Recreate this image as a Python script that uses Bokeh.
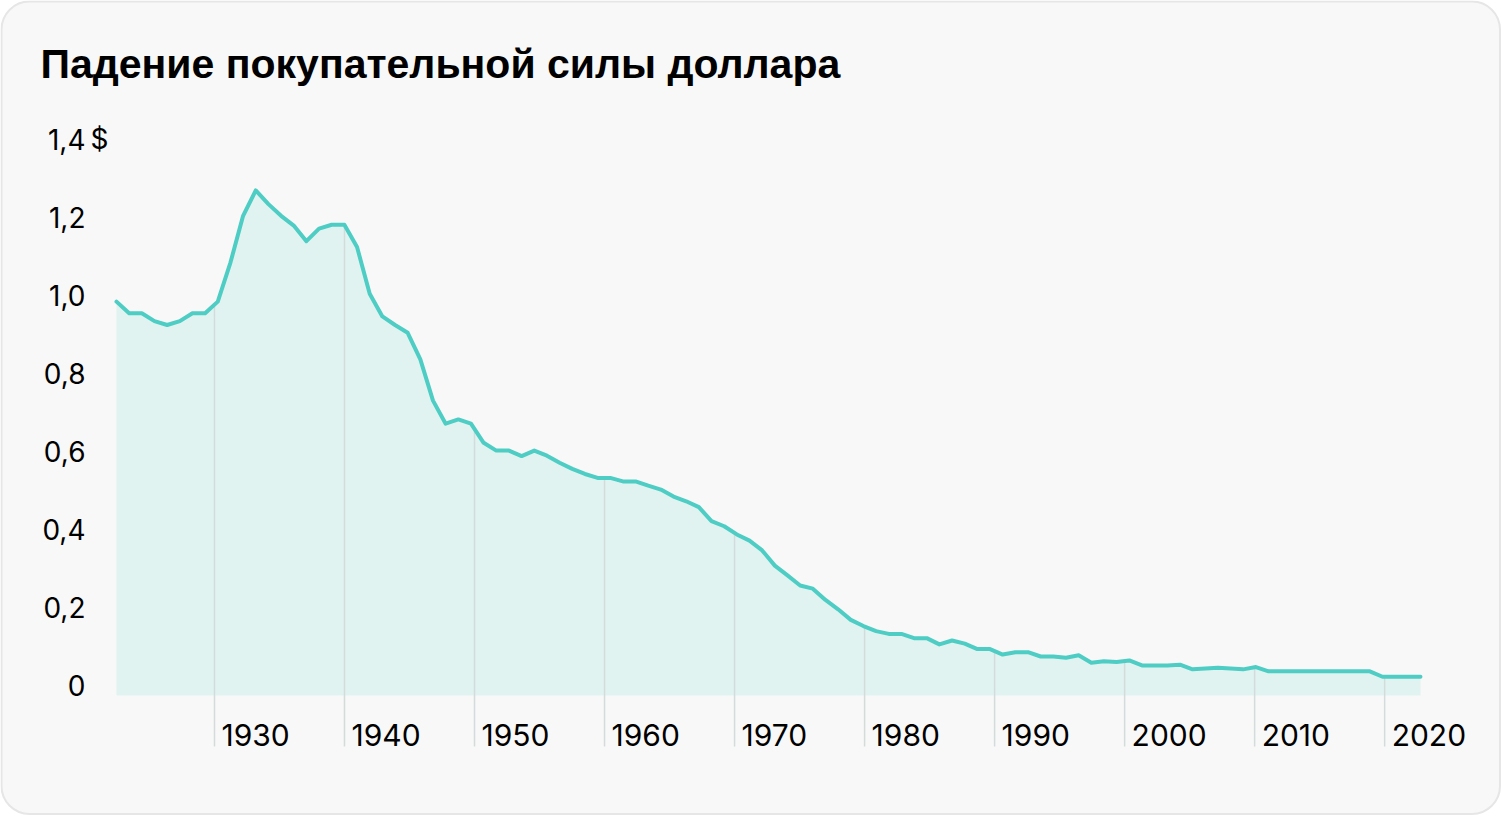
import numpy as np
from bokeh.plotting import figure
from bokeh.models import Range1d, Label
from bokeh.core.properties import value
from bokeh.embed import file_html
from bokeh.resources import INLINE

# ---- data ----
years = list(range(1922, 2026))
values = [
    1.01, 0.98, 0.98, 0.96, 0.95, 0.96, 0.98, 0.98, 1.01, 1.11,
    1.23, 1.295, 1.26, 1.23, 1.205, 1.165, 1.197, 1.207, 1.207, 1.15,
    1.03, 0.972, 0.95, 0.93, 0.862, 0.756, 0.697, 0.708, 0.697, 0.648,
    0.628, 0.628, 0.614, 0.628, 0.615, 0.597, 0.581, 0.568, 0.558, 0.558,
    0.549, 0.549, 0.538, 0.528, 0.51, 0.498, 0.483, 0.447, 0.434, 0.413,
    0.397, 0.372, 0.333, 0.308, 0.282, 0.274, 0.245, 0.221, 0.194, 0.178,
    0.165, 0.158, 0.158, 0.147, 0.147, 0.131, 0.141, 0.133, 0.119, 0.119,
    0.105, 0.111, 0.111, 0.100, 0.100, 0.097, 0.103, 0.084, 0.088, 0.086,
    0.090, 0.077, 0.077, 0.077, 0.079, 0.067, 0.069, 0.071, 0.069, 0.067,
    0.073, 0.062, 0.062, 0.062, 0.062, 0.062, 0.062, 0.062, 0.062, 0.062,
    0.048, 0.048, 0.048, 0.048,
]
y_ticks = [0, 0.2, 0.4, 0.6, 0.8, 1.0, 1.2, 1.4]
y_tick_labels = ["0", "0,2", "0,4", "0,6", "0,8", "1,0", "1,2", "1,4"]
x_tick_labels = ["1930", "1940", "1950", "1960", "1970", "1980", "1990", "2000", "2010", "2020"]
x_tick_pos = [1929.74 + 10.27 * k for k in range(len(x_tick_labels))]
title_text = "Падение покупательной силы доллара"

# ---- style ----
W, H = 1502, 816
LINE = "#4ecdc4"
FILL = "#e0f3f1"
GRID = "#d3dbdb"
CARD = "#f8f8f8"
CARD_BORDER = "#e6e6e6"
TXT = "#000000"
LABEL_FONT = value("Inter")

X0, X1 = 1912.837, 2031.479
Y0, Y1 = -0.31026, 1.78205
ppx = W / (X1 - X0)
ppy = H / (Y1 - Y0)


def dx(px):
    return X0 + px / ppx


def dy(py):
    return Y1 - py / ppy


p = figure(width=W, height=H, output_backend="svg", toolbar_location=None,
           x_range=Range1d(X0, X1), y_range=Range1d(Y0, Y1),
           x_axis_location=None, y_axis_location=None, min_border=0)
p.grid.visible = False
p.outline_line_color = None
p.background_fill_color = "white"
p.border_fill_color = "white"

# card
p.quad(left=dx(1), right=dx(1499.5), top=dy(1), bottom=dy(813.5),
       fill_color=CARD, line_color=CARD_BORDER, line_width=2, border_radius=28)

# area
base = [0] * len(years)
p.varea(x=years, y1=base, y2=values, fill_color=FILL)

# decade lines from curve down through the labels
tops = np.interp(x_tick_pos, years, values)
bottom = dy(746)
p.segment(x0=x_tick_pos, y0=tops, x1=x_tick_pos, y1=[bottom] * len(x_tick_pos),
          line_color=GRID, line_width=1.5)

# main line
p.line(x=years, y=values, line_color=LINE, line_width=4,
       line_join="round", line_cap="round")

# x labels
p.text(x=x_tick_pos, y=[bottom] * len(x_tick_pos), text=x_tick_labels,
       x_offset=7, y_offset=-12, text_align="left", text_baseline="alphabetic",
       text_font=LABEL_FONT, text_font_size="30px", text_color=TXT)

# y labels
p.text(x=[years[0]] * len(y_ticks), y=y_ticks, text=y_tick_labels,
       x_offset=-31, y_offset=-10, text_align="right", text_baseline="alphabetic",
       text_font=LABEL_FONT, text_font_size="28px", text_color=TXT)
p.text(x=[years[0]], y=[y_ticks[-1]], text=["$"], x_offset=-26, y_offset=-10,
       text_align="left", text_baseline="alphabetic",
       text_font=LABEL_FONT, text_font_size="28px", text_color=TXT)

# title
p.add_layout(Label(x=40, y=H - 63, x_units="screen", y_units="screen",
                   text=title_text, text_font="Liberation Sans",
                   text_font_size="41px", text_font_style="bold",
                   text_color=TXT, text_baseline="alphabetic"))

open("out.html", "w").write(file_html(p, INLINE))
